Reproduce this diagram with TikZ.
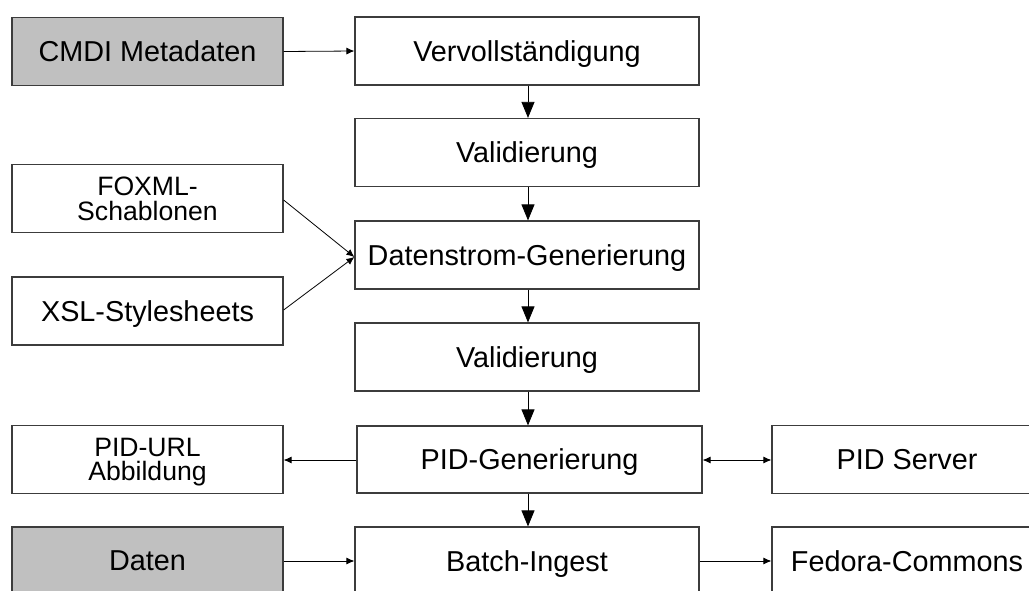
\documentclass[tikz,border=0pt]{standalone}
\usepackage{fontspec}
\setmainfont{Liberation Sans}
\usetikzlibrary{arrows.meta}
\definecolor{boxline}{HTML}{3C3C3C}
\definecolor{srcfill}{HTML}{C0C0C0}
\tikzset{
  box/.style={draw=boxline, line width=1.2pt, fill=white, minimum width=344pt,
    minimum height=68pt, inner sep=0pt, align=center, text depth=0pt,
    font=\fontsize{28.8pt}{30pt}\selectfont},
  sidebox/.style={box, minimum width=271pt},
  twoline/.style={font=\fontsize{26.6pt}{24.5pt}\selectfont},
  srcbox/.style={sidebox, fill=srcfill},
  flow/.style={draw=black, line width=0.8pt, -{Triangle[length=16pt,width=13pt]}},
  link/.style={draw=black, line width=0.8pt, -{Latex[length=8pt,width=7pt]}},
  twoway/.style={draw=black, line width=0.8pt, {Latex[length=8pt,width=7pt]}-{Latex[length=8pt,width=7pt]}}
}
\begin{document}
\begin{tikzpicture}[x=1pt,y=-1pt]
  \useasboundingbox (0,0) rectangle (1029,590);
  \clip (0,0) rectangle (1029,590);

  % main processing chain
  \node[box] (verv)  at (527,51)    {Vervollständigung};
  \node[box] (val1)  at (527,152.5) {Validierung};
  \node[box] (dsg)   at (527,255)   {Datenstrom-Generierung};
  \node[box] (val2)  at (527,357)   {Validierung};
  \node[box, minimum width=345pt, minimum height=67pt] (pidg) at (529.5,459.5) {PID-Generierung};
  \node[box] (batch) at (527,561)   {Batch-Ingest};

  % inputs and side components
  \node[srcbox]  (cmdi)   at (147.5,51.5) {CMDI Metadaten};
  \node[sidebox, twoline] (foxml)  at (147.5,198.5)  {FOXML-\\Schablonen};
  \node[sidebox] (xsl)    at (147.5,311)  {XSL-Stylesheets};
  \node[sidebox, twoline] (pidurl) at (147.5,459.5) {PID-URL\\Abbildung};
  \node[srcbox]  (daten)  at (147.5,561)  {Daten};
  \node[sidebox, minimum width=270pt] (pidsrv) at (907,459.5) {PID Server};
  \node[sidebox, minimum width=270pt] (fedora) at (907,561)   {Fedora-Commons};

  % vertical flow
  \draw[flow] (verv.south -| 528,0) -- (val1.north -| 528,0);
  \draw[flow] (val1.south -| 528,0) -- (dsg.north -| 528,0);
  \draw[flow] (dsg.south -| 528,0) -- (val2.north -| 528,0);
  \draw[flow] (val2.south -| 528,0) -- (pidg.north -| 528,0);
  \draw[flow] (pidg.south -| 528,0) -- (batch.north -| 528,0);

  % horizontal connections
  \draw[link] (cmdi.east) -- (verv.west);
  \draw[link] (foxml.east |- 0,200) -- (dsg.west |- 0,257);
  \draw[link] (xsl.east |- 0,310) -- (dsg.west |- 0,257);
  \draw[link] (pidg.west |- 0,460) -- (pidurl.east |- 0,460);
  \draw[twoway] (pidg.east |- 0,460) -- (pidsrv.west |- 0,460);
  \draw[link] (daten.east) -- (batch.west);
  \draw[link] (batch.east) -- (fedora.west);
\end{tikzpicture}
\end{document}
